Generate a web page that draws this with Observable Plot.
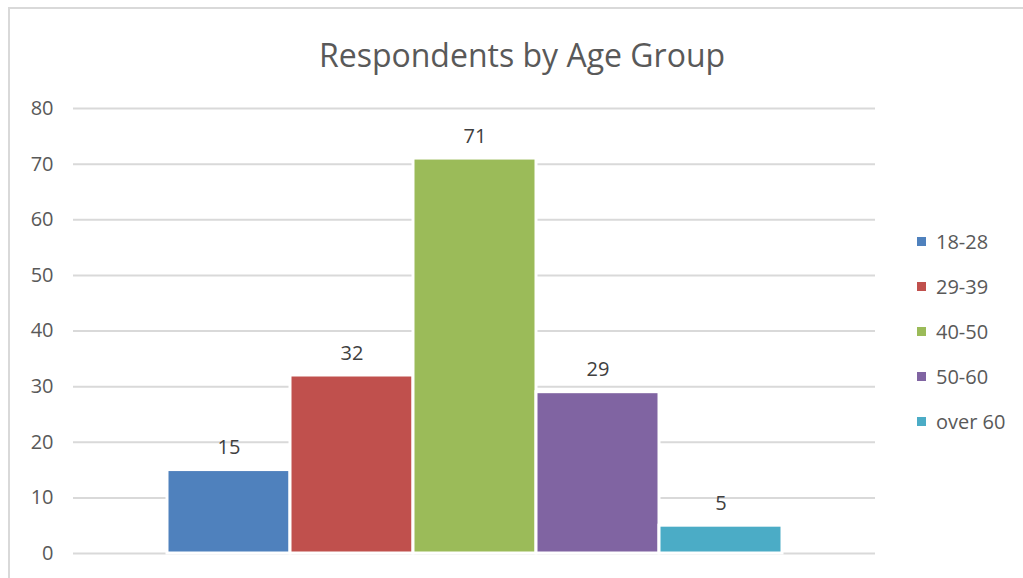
<!DOCTYPE html>
<html><head><meta charset="utf-8">
<script src="https://cdn.jsdelivr.net/npm/d3@7"></script>
<script src="https://cdn.jsdelivr.net/npm/@observablehq/plot@0.6"></script>
<style>
html,body{margin:0;padding:0;background:#fff;overflow:hidden;}
#wrap{position:relative;width:1023px;height:578px;overflow:hidden;font-family:"Open Sans",sans-serif;}
#frame{position:absolute;left:8px;top:7px;width:1060px;height:620px;border:2px solid #d9d9d9;box-sizing:border-box;}
#chart{position:absolute;left:0;top:0;}
#title{position:absolute;left:0;width:1044px;top:36px;text-align:center;font-size:32px;line-height:38px;color:#595959;white-space:pre;}
#legend{position:absolute;left:917px;top:0;}
.row{position:absolute;left:0;display:flex;align-items:center;height:24px;font-size:20px;color:#595959;white-space:nowrap;}
.sw{width:9px;height:9px;margin-right:10px;}
</style>
</head><body>
<div id="wrap">
  <div id="frame"></div>
  <div id="chart"></div>
  <div id="title">Respondents by Age Group</div>
  <div id="legend"></div>
</div>
<script>
const categories = ["18-28", "29-39", "40-50", "50-60", "over 60"];
const values = [15, 32, 71, 29, 5];
const colors = ["#4F81BD", "#C0504D", "#9BBB59", "#8064A2", "#4BACC6"];
const yTicks = [0, 10, 20, 30, 40, 50, 60, 70, 80];

const data = categories.map((c, i) => ({cat: c, value: values[i]}));

const chart = Plot.plot({
  width: 1023,
  height: 578,
  marginTop: 108,
  marginBottom: 25,
  marginLeft: 73,
  marginRight: 148,
  x: {domain: categories, paddingInner: 0, paddingOuter: 0.755, axis: null},
  y: {domain: [0, 80], axis: null},
  color: {domain: categories, range: colors},
  style: {fontFamily: "'Open Sans', sans-serif", fontSize: "20px", color: "#595959", background: "transparent", overflow: "visible"},
  marks: [
    Plot.ruleY(yTicks, {stroke: "#d9d9d9", strokeWidth: 2}),
    Plot.axisY({ticks: yTicks, tickSize: 0, tickPadding: 20, fontSize: 20, label: null}),
    Plot.barY(data, {x: "cat", y: "value", fill: "cat", stroke: "white", strokeWidth: 3}),
    Plot.text(data, {x: "cat", y: "value", text: d => String(d.value), lineAnchor: "bottom", dy: -16, fill: "#404040", fontSize: 20})
  ]
});
document.getElementById("chart").appendChild(chart);

const legend = document.getElementById("legend");
categories.forEach((c, i) => {
  const row = document.createElement("div");
  row.className = "row";
  row.style.top = (241 + 45 * i - 12) + "px";
  const sw = document.createElement("div");
  sw.className = "sw";
  sw.style.background = colors[i];
  const t = document.createElement("span");
  t.textContent = c;
  row.appendChild(sw);
  row.appendChild(t);
  legend.appendChild(row);
});
</script>
</body></html>
